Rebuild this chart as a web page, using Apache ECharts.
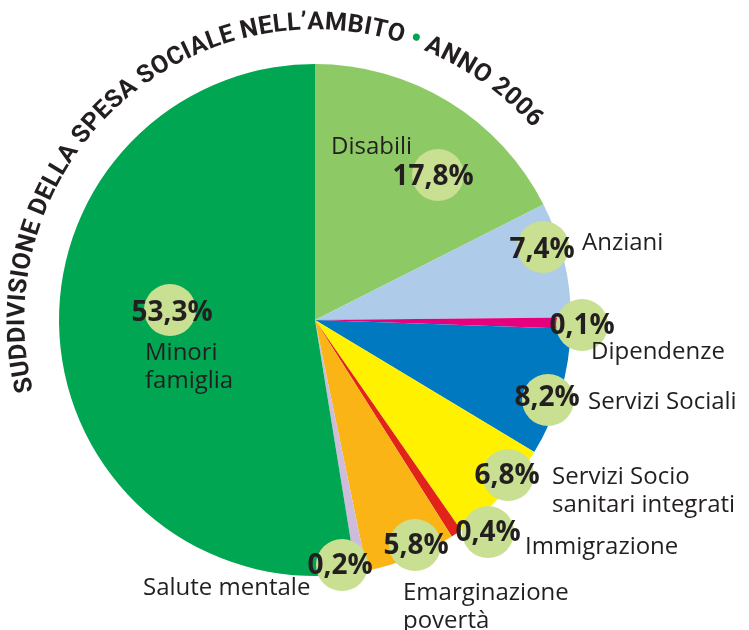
<!DOCTYPE html>
<html>
<head>
<meta charset="utf-8">
<script src="https://cdn.jsdelivr.net/npm/echarts@6/dist/echarts.min.js"></script>
<style>
html, body { margin: 0; padding: 0; background: #fff; }
#chart { width: 749px; height: 630px; }
</style>
</head>
<body>
<div id="chart"></div>
<script>
// slices, clockwise from 12 o'clock
var categories = ['Disabili', 'Anziani', 'Dipendenze', 'Servizi Sociali', 'Servizi Socio\nsanitari integrati',
	'Immigrazione', 'Emarginazione\npovertà', 'Salute mentale', 'Minori\nfamiglia'];
var values = [17.8, 7.4, 0.1, 8.2, 6.8, 0.4, 5.8, 0.2, 53.3];
var colors = ['#8dc965', '#aecbea', '#e6007e', '#0079c1', '#fff100', '#e2231a', '#fbb416', '#cdbcdc', '#00a651'];
var titleText = 'SUDDIVISIONE DELLA SPESA SOCIALE NELL’AMBITO • ANNO 2006';

// where the bubbles and labels sit
var bubbleAt = [[438, 175], [543, 247], [582, 325], [548, 400], [508, 475], [488, 532], [415, 545], [342, 565], [170, 310]];
var pctAt = [[433, 177], [542, 250], [582, 326], [547, 398], [507, 476], [488, 533], [416, 546], [340, 566], [172, 313]];
var nameAt = [[331, 147], [582, 243], [591, 352], [588, 402], [552, 491], [525, 547], [403, 607], [143, 588], [145, 367]];

var cx = 315, cy = 320;
var ink = '#231f20';

function fmt(v) {
	return v.toFixed(1).replace('.', ',') + '%';
}

function buildTitle() {
	var r = 297;
	var font = 'bold 25px Roboto';
	var ctx = document.createElement('canvas').getContext('2d');
	ctx.font = font;
	var chars = Array.from(titleText);
	var pos = [], s = 0;
	chars.forEach(function (c) {
		var w = ctx.measureText(c).width;
		pos.push(s + w / 2);
		s += w;
	});
	var a0 = 192.6, a1 = 42.8;
	var span = pos[pos.length - 1] - pos[0];
	var out = [];
	chars.forEach(function (c, i) {
		if (c === ' ') return;
		var a = (a0 - (pos[i] - pos[0]) / span * (a0 - a1)) * Math.PI / 180;
		var dot = c === '•';
		out.push({
			type: 'text',
			x: cx + r * Math.cos(a),
			y: cy - r * Math.sin(a),
			rotation: a - Math.PI / 2,
			z: 100,
			style: {
				text: c,
				font: dot ? 'bold 30px Roboto' : font,
				fill: dot ? '#00a651' : ink,
				align: 'center',
				verticalAlign: 'middle'
			}
		});
	});
	return out;
}

function buildLabels() {
	var out = [];
	values.forEach(function (v, i) {
		out.push({
			type: 'circle',
			z: 50,
			shape: { cx: bubbleAt[i][0], cy: bubbleAt[i][1], r: 26 },
			style: { fill: '#c9df92' }
		});
		out.push({
			type: 'text',
			z: 60,
			x: pctAt[i][0],
			y: pctAt[i][1],
			style: {
				text: fmt(v),
				font: 'bold 28px "Open Sans"',
				fill: ink,
				align: 'center',
				verticalAlign: 'middle'
			}
		});
		out.push({
			type: 'text',
			z: 60,
			x: nameAt[i][0],
			y: nameAt[i][1],
			style: {
				text: categories[i],
				font: '24px "Open Sans"',
				lineHeight: 28,
				fill: ink,
				align: 'left',
				verticalAlign: 'middle'
			}
		});
	});
	return out;
}

var chart = echarts.init(document.getElementById('chart'), null, { renderer: 'canvas' });
chart.setOption({
	animation: false,
	backgroundColor: '#fff',
	series: [{
		type: 'pie',
		center: [cx, cy],
		radius: 256,
		startAngle: 90,
		clockwise: true,
		minAngle: 2.5,
		label: { show: false },
		labelLine: { show: false },
		emphasis: { disabled: true },
		data: values.map(function (v, i) {
			return { value: v, name: categories[i], itemStyle: { color: colors[i] } };
		})
	}],
	graphic: { elements: buildTitle().concat(buildLabels()) }
});
</script>
</body>
</html>
